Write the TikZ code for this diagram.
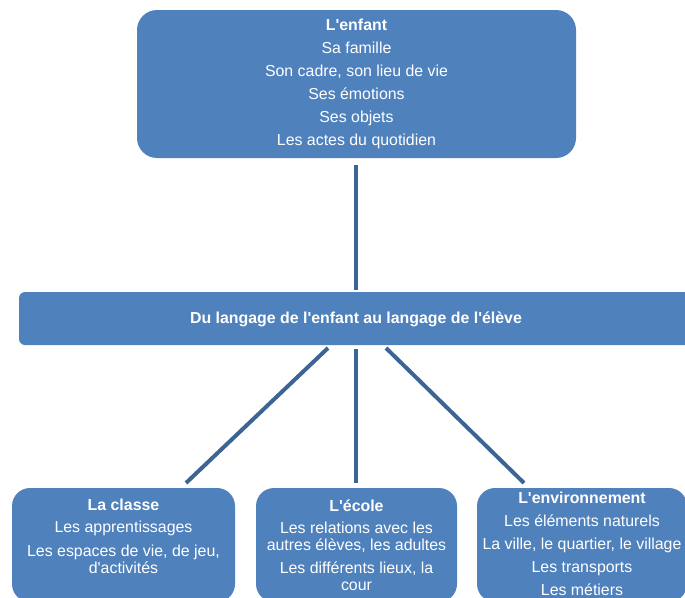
\documentclass[tikz,border=0pt]{standalone}
\usepackage{fontspec}
\setmainfont{Liberation Sans}
\newcommand{\ap}{\textquotesingle}
\definecolor{boxblue}{HTML}{4F81BD}
\definecolor{lineblue}{HTML}{3C6595}
\tikzset{
  box/.style={fill=boxblue, draw=none, inner sep=0pt},
  txt/.style={text=white, align=center, inner sep=0pt, font=\fontsize{15.9}{17}\selectfont},
  conn/.style={draw=lineblue, line width=4pt}
}
\begin{document}
\begin{tikzpicture}[x=1pt,y=-1pt]
\useasboundingbox (0,0) rectangle (685,597);
\begin{scope}
\clip (0,0) rectangle (685,597);
% boxes
\node[box, rounded corners=20pt, minimum width=439pt, minimum height=148pt] (top) at (356.5,84) {};
\node[box, rounded corners=6pt, minimum width=674pt, minimum height=53pt] (mid) at (356,318.5) {};
\node[box, rounded corners=18pt, minimum width=223pt, minimum height=114pt] (bl) at (123.5,545) {};
\node[box, rounded corners=18pt, minimum width=201pt, minimum height=114pt] (bm) at (356.5,545) {};
\node[box, rounded corners=18pt, minimum width=210pt, minimum height=114pt] (br) at (582,545) {};
% texts
\node[txt] (toptxt) at (356.5,84) {\textbf{L\ap enfant}\\[6pt] Sa famille\\[6pt] Son cadre, son lieu de vie\\[6pt] Ses émotions\\[6pt] Ses objets\\[6pt] Les actes du quotidien};
\node[txt, font=\fontsize{15.9}{17}\selectfont\bfseries] (midtxt) at (356,319) {Du langage de l\ap enfant au langage de l\ap élève};
\node[txt] (bltxt) at (123.5,536) {\textbf{La classe}\\[5pt] Les apprentissages\\[7pt] Les espaces de vie, de jeu,\\ d\ap activités};
\node[txt] (bmtxt) at (356.5,545.5) {\textbf{L\ap école}\\[5pt] Les relations avec les\\ autres élèves, les adultes\\[6pt] Les différents lieux, la\\ cour};
\node[txt] (brtxt) at (582,543.5) {\textbf{L\ap environnement}\\[6pt] Les éléments naturels\\[6pt] La ville, le quartier, le village\\[6pt] Les transports\\[6pt] Les métiers};
% connector endpoints
\coordinate (t1) at (356,165);
\coordinate (t2) at (356,290);
\coordinate (l1) at (328,348);
\coordinate (l2) at (186,483);
\coordinate (m1) at (356,349);
\coordinate (m2) at (356,483);
\coordinate (r1) at (386,348);
\coordinate (r2) at (524,483);
\draw[conn] (t1) -- (t2);
\draw[conn] (l1) -- (l2);
\draw[conn] (m1) -- (m2);
\draw[conn] (r1) -- (r2);
\end{scope}
\end{tikzpicture}
\end{document}
